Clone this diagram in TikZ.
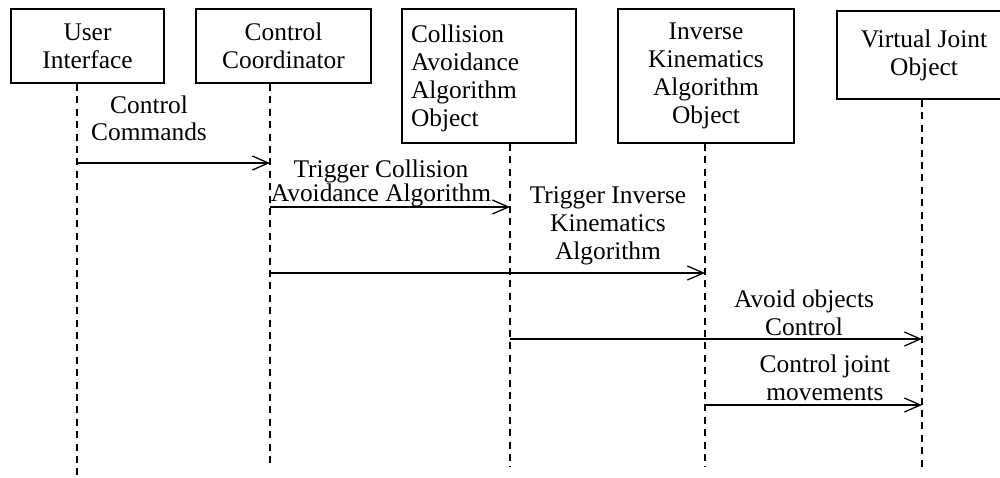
\documentclass[tikz,border=0pt]{standalone}
\usepackage{fontspec}
\setmainfont{Liberation Serif}
\usetikzlibrary{positioning,arrows.meta,calc}
\definecolor{ink}{HTML}{000000}
\definecolor{paper}{HTML}{FFFFFF}

\tikzset{
  objbox/.style={draw=ink,line width=1pt,inner sep=0pt,align=center,anchor=north west,
    execute at begin node={\rule{0pt}{11pt}}},
  life/.style={draw=ink,line width=0.75pt,dash pattern=on 3.5pt off 2.7pt},
  msg/.style={draw=ink,line width=0.65pt,-{Straight Barb[length=8pt,width=7pt,line width=0.65pt]}},
  msgtext/.style={inner sep=0pt,align=center,anchor=base},
}

\begin{document}
\begin{tikzpicture}[x=0.5pt,y=-0.5pt,font=\fontsize{12.7}{14}\selectfont]
\clip (0,0) rectangle (1000,477);
\fill[paper] (0,0) rectangle (1000,477);

% objects
\node[objbox,minimum width=76.5pt,minimum height=37pt] (ui) at (10,8) {User\\Interface};
\node[objbox,minimum width=87.5pt,minimum height=37pt] (cc) at (195,8) {Control\\Coordinator};
\node[objbox,minimum width=87pt,minimum height=67pt,align=left,text width=78pt,inner xsep=4.5pt] (ca) at (401,8) {Collision\\Avoidance\\Algorithm\\Object};
\node[objbox,minimum width=88pt,minimum height=67pt] (ik) at (617,8) {Inverse\\Kinematics\\Algorithm\\Object};
\node[objbox,minimum width=87pt,minimum height=44pt,execute at begin node={}] (vj) at (836,10) {Virtual Joint\\Object};

% lifeline ends
\coordinate (ui-l) at (77,477);
\coordinate (cc-l) at (270,463);
\coordinate (ca-l) at (510,467);
\coordinate (ik-l) at (705,467);
\coordinate (vj-l) at (922,467);
\foreach \o in {ui,cc,ca,ik,vj}
  \draw[life] (\o.south -| \o-l) -- (\o-l);

% messages
\draw[msg] (ui-l |- 0,163) -- (cc-l |- 0,163);
\node[msgtext] (m1) at (149,140) {Control\\[-0.5pt]Commands};
\draw[msg] (cc-l |- 0,207) -- (ca-l |- 0,207);
\node[msgtext] (m2) at (381,201) {Trigger Collision\\[-2pt]Avoidance Algorithm};
\draw[msg] (cc-l |- 0,273) -- (ik-l |- 0,273);
\node[msgtext] (m3) at (608,259) {Trigger Inverse\\Kinematics\\Algorithm};
\draw[msg] (ca-l |- 0,339) -- (vj-l |- 0,339);
\node[msgtext] (m4) at (804,335) {Avoid objects\\Control};
\draw[msg] (ik-l |- 0,405) -- (vj-l |- 0,405);
\node[msgtext] (m5) at (825,400) {Control joint\\movements};
\end{tikzpicture}
\end{document}
